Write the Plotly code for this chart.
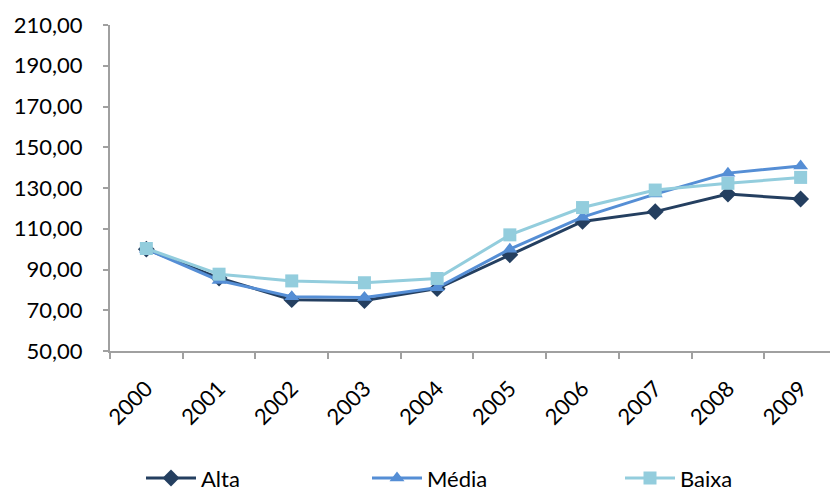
import plotly.graph_objects as go

years = ["2000", "2001", "2002", "2003", "2004", "2005", "2006", "2007", "2008", "2009"]
alta = [100.0, 85.8, 75.2, 74.8, 80.6, 97.2, 113.6, 118.4, 127.0, 124.6]
media = [100.0, 84.6, 76.6, 76.3, 81.0, 100.0, 115.7, 127.0, 137.3, 140.8]
baixa = [100.3, 87.7, 84.4, 83.5, 85.6, 107.0, 120.4, 129.0, 132.3, 135.2]

names = ["Alta", "Média", "Baixa"]
colors = ["#243F60", "#558ED5", "#93CDDD"]
symbols = ["diamond", "triangle-up", "square"]
series = [alta, media, baixa]
legend_ids = ["legend", "legend2", "legend3"]
legend_x = [141, 367, 620]

FONT = "Lato"

fig = go.Figure()
for name, vals, col, sym, lid in zip(names, series, colors, symbols, legend_ids):
    fig.add_trace(go.Scatter(
        x=years, y=vals, name=name, mode="lines+markers",
        line=dict(color=col, width=3),
        marker=dict(symbol=sym, size=13, color=col),
        legend=lid,
    ))

legend_common = dict(orientation="h", xref="container", xanchor="left",
                     yref="container", y=0.028, yanchor="middle",
                     font=dict(size=22), itemwidth=50, bgcolor="rgba(0,0,0,0)")

fig.update_layout(
    width=830, height=492,
    margin=dict(l=110, r=0, t=25, b=141, autoexpand=False),
    paper_bgcolor="white", plot_bgcolor="white",
    separators=", ",
    font=dict(family=FONT, size=22, color="black"),
    showlegend=True,
    legend=dict(x=legend_x[0] / 830, **legend_common),
    legend2=dict(x=legend_x[1] / 830, **legend_common),
    legend3=dict(x=legend_x[2] / 830, **legend_common),
)
fig.update_xaxes(
    type="category", range=[-0.5, 9.404], tickson="boundaries",
    showline=True, linecolor="#a0a0a0", linewidth=2,
    ticks="outside", ticklen=6, tickcolor="#a0a0a0", tickwidth=2,
    tickangle=-45, showgrid=False, zeroline=False, ticklabelstandoff=14,
    tickfont=dict(family=FONT, size=22),
)
fig.update_yaxes(
    range=[50, 210], dtick=20, tick0=50, tickformat=".2f",
    showline=True, linecolor="#a0a0a0", linewidth=2,
    ticks="outside", ticklen=5, tickcolor="#a0a0a0", tickwidth=2,
    showgrid=False, zeroline=False, ticklabelstandoff=16,
    tickfont=dict(family=FONT, size=22),
)

fig.write_html("out.html")
